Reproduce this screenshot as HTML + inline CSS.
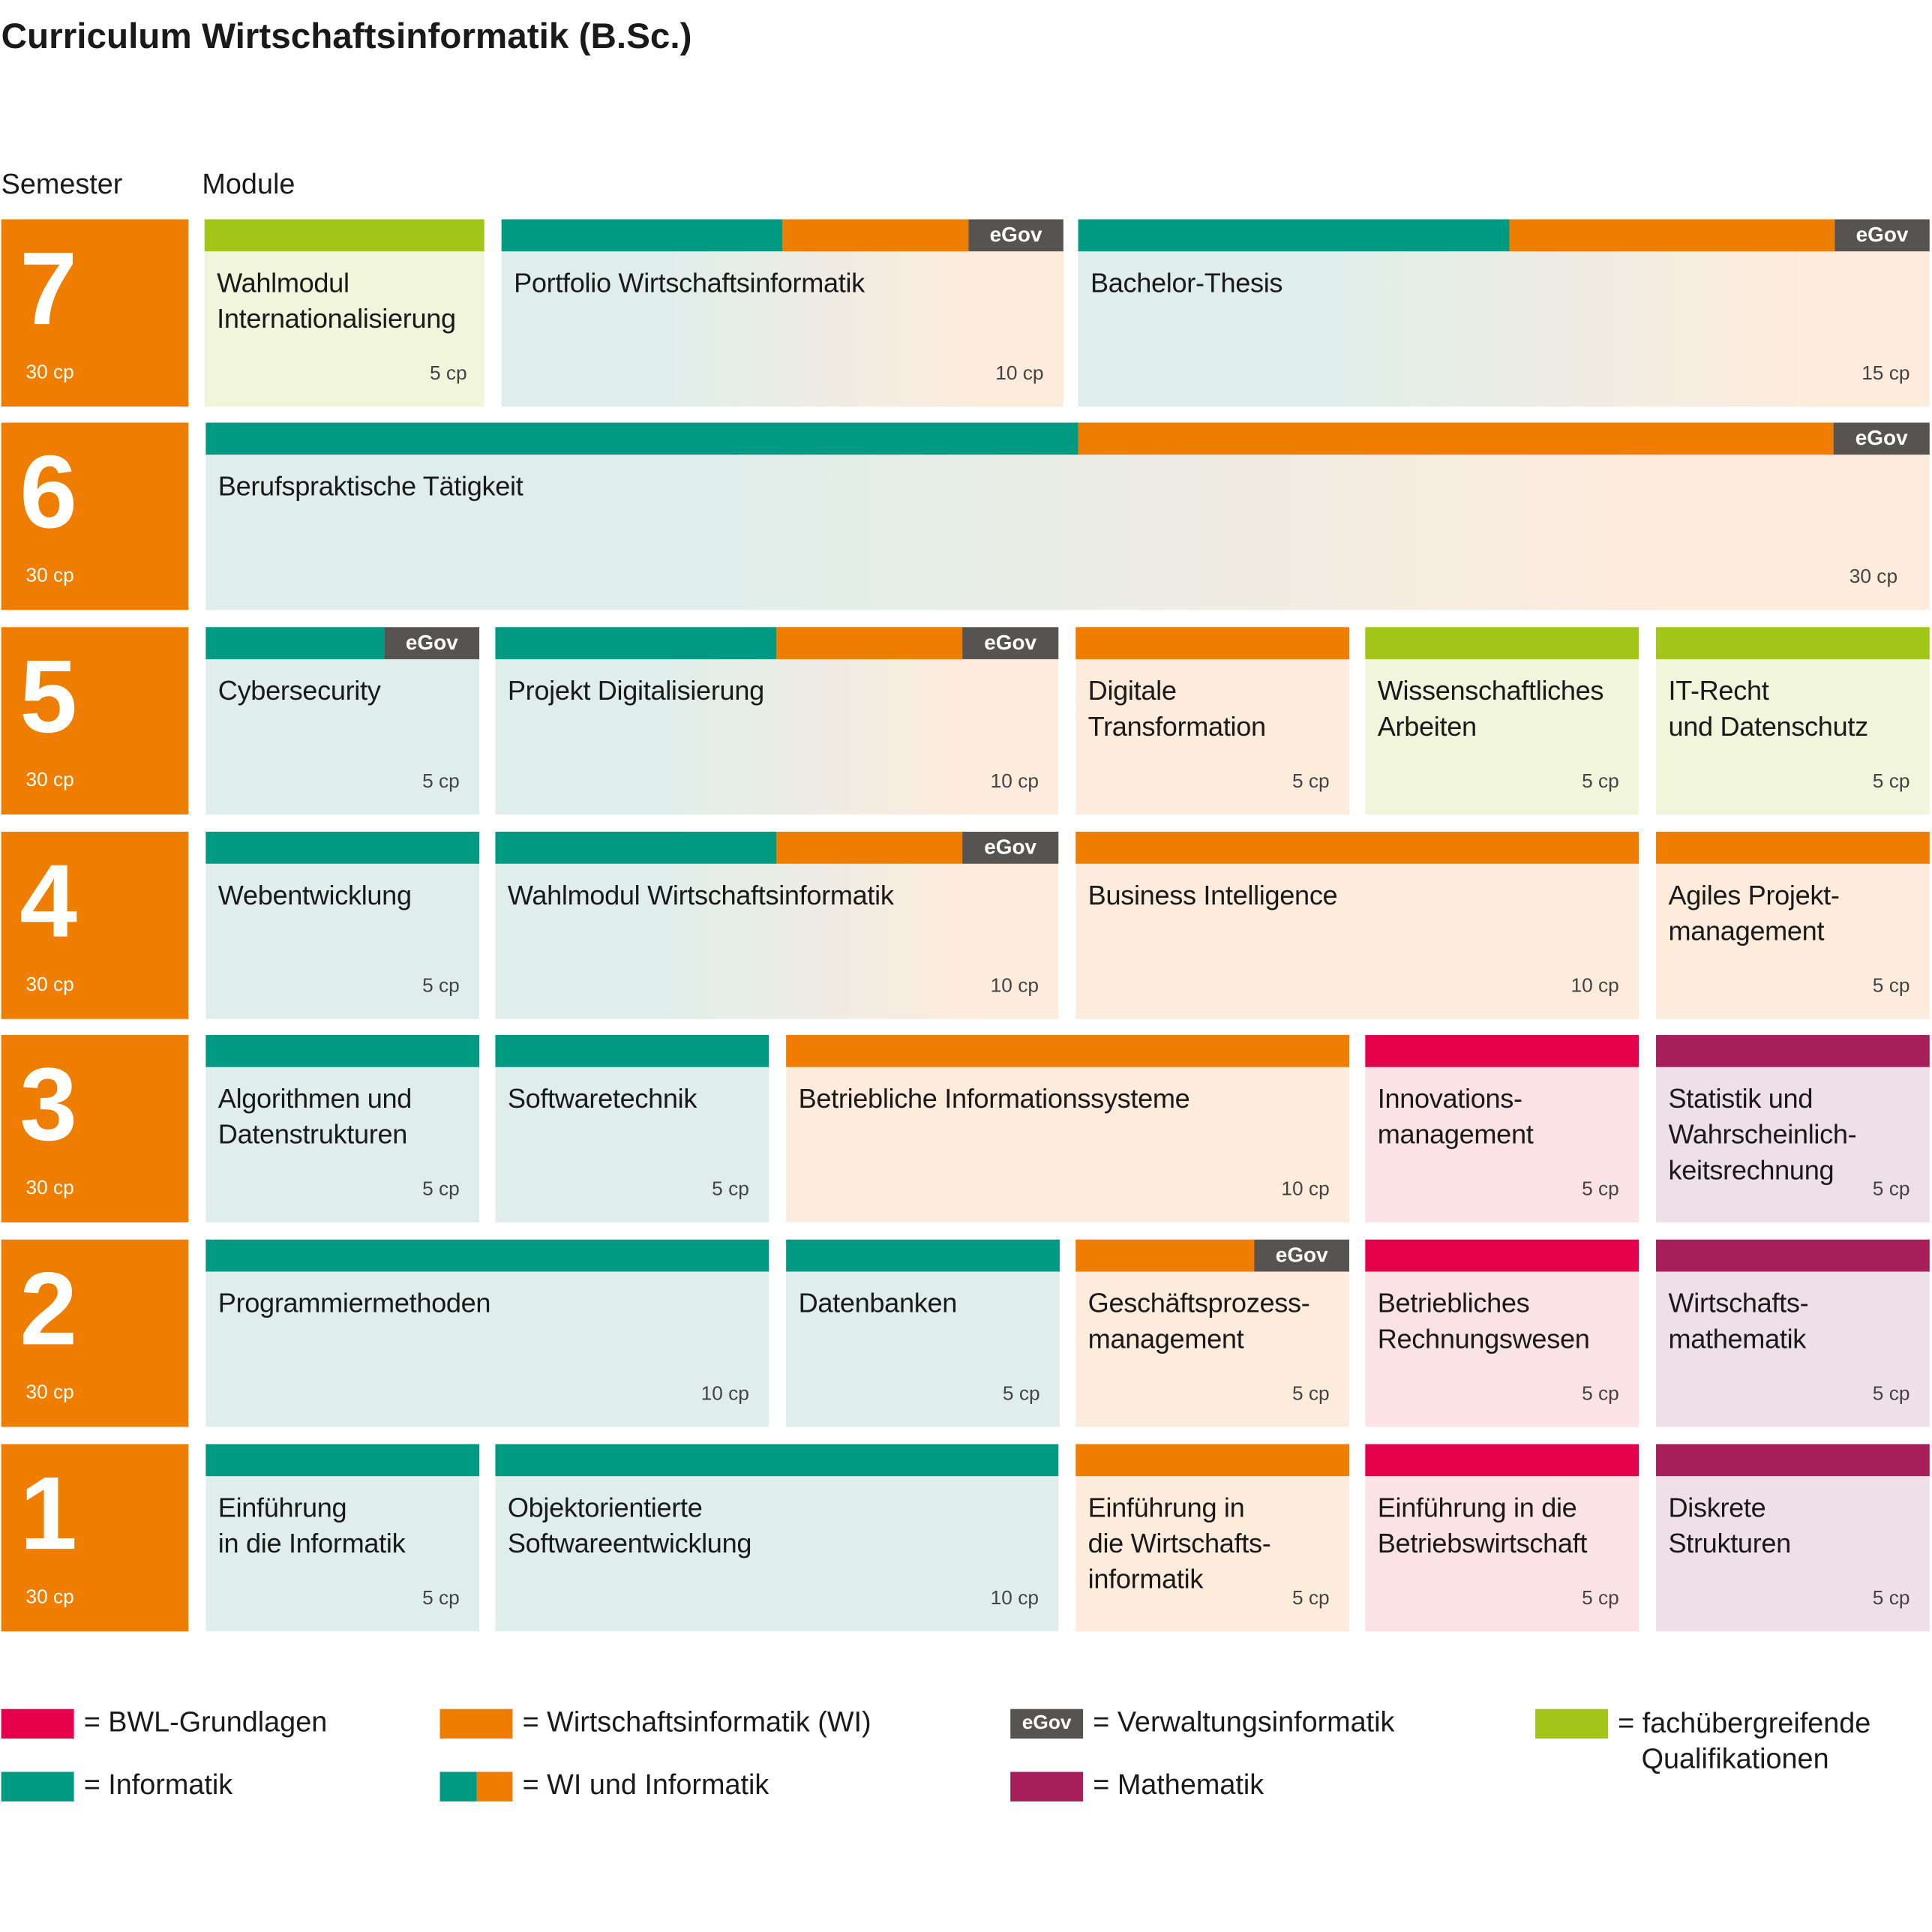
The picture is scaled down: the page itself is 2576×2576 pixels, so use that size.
<!DOCTYPE html>
<html><head><meta charset="utf-8"><style>
html,body{margin:0;padding:0;background:#fff;}
body{width:2576px;height:2576px;overflow:hidden;}
#w{position:absolute;left:0;top:0;width:1568px;height:1568px;transform:scale(1.6429);transform-origin:0 0;font-family:"Liberation Sans",sans-serif;color:#1a1a1a;}
.a{position:absolute;}
.sem{position:absolute;left:1px;width:152px;height:152px;background:#ef7d00;color:#fff;}
.sem .n{position:absolute;left:15px;top:6px;font-size:84px;font-weight:bold;line-height:100px;}
.sem .c{position:absolute;left:20px;bottom:18px;font-size:16px;}
.m{position:absolute;height:152px;}
.bar{position:absolute;top:0;height:26px;}
.t{position:absolute;left:10px;top:37px;font-size:22px;line-height:29px;white-space:nowrap;letter-spacing:-0.2px;}
.cp{position:absolute;right:16px;bottom:17px;font-size:16px;color:#444;}
.eg{background:#575350;color:#fff;font-weight:bold;font-size:17px;text-align:center;line-height:26px;}
.tl{background:#e0eeeb}.ol{background:#fdebdc}.gl{background:#f0f5dc}.rl{background:#fae2e5}.pl{background:#efdfe6}
.mix{background:linear-gradient(90deg,#e0eeeb 0%,#e0eeeb 30%,#fdebdc 85%,#fdebdc 100%);}
.T{background:#009a82}.O{background:#ef7d00}.G{background:#a2c617}.R{background:#e4004b}.P{background:#a61e5a}
.lg{position:absolute;font-size:23px;white-space:nowrap;}
.sw{position:absolute;width:59px;height:24px;}
</style></head><body><div id="w">
<div class="a" style="left:1px;top:14px;font-size:29px;font-weight:bold;">Curriculum Wirtschaftsinformatik (B.Sc.)</div>
<div class="a" style="left:1px;top:136px;font-size:23px;">Semester</div>
<div class="a" style="left:164px;top:136px;font-size:23px;">Module</div>

<div class="sem" style="top:178px"><div class="n">7</div><div class="c">30 cp</div></div>
<div class="sem" style="top:343px"><div class="n">6</div><div class="c">30 cp</div></div>
<div class="sem" style="top:509px"><div class="n">5</div><div class="c">30 cp</div></div>
<div class="sem" style="top:675px"><div class="n">4</div><div class="c">30 cp</div></div>
<div class="sem" style="top:840px"><div class="n">3</div><div class="c">30 cp</div></div>
<div class="sem" style="top:1006px"><div class="n">2</div><div class="c">30 cp</div></div>
<div class="sem" style="top:1172px"><div class="n">1</div><div class="c">30 cp</div></div>

<!-- Row 7 -->
<div class="m gl" style="left:166px;top:178px;width:227px"><div class="bar G" style="left:0;width:227px"></div><div class="t">Wahlmodul<br>Internationalisierung</div><div class="cp" style="right:14px">5 cp</div></div>
<div class="m mix" style="left:407px;top:178px;width:456px"><div class="bar T" style="left:0;width:228px"></div><div class="bar O" style="left:228px;width:151px"></div><div class="bar eg" style="left:379px;width:77px">eGov</div><div class="t">Portfolio Wirtschaftsinformatik</div><div class="cp">10 cp</div></div>
<div class="m mix" style="left:875px;top:178px;width:691px"><div class="bar T" style="left:0;width:350px"></div><div class="bar O" style="left:350px;width:264px"></div><div class="bar eg" style="left:614px;width:77px">eGov</div><div class="t">Bachelor-Thesis</div><div class="cp">15 cp</div></div>

<!-- Row 6 -->
<div class="m mix" style="left:167px;top:343px;width:1399px"><div class="bar T" style="left:0;width:708px"></div><div class="bar O" style="left:708px;width:613px"></div><div class="bar eg" style="left:1321px;width:78px">eGov</div><div class="t">Berufspraktische Tätigkeit</div><div class="cp" style="right:26px">30 cp</div></div>

<!-- Row 5 -->
<div class="m tl" style="left:167px;top:509px;width:222px"><div class="bar T" style="left:0;width:145px"></div><div class="bar eg" style="left:145px;width:77px">eGov</div><div class="t">Cybersecurity</div><div class="cp">5 cp</div></div>
<div class="m mix" style="left:402px;top:509px;width:457px"><div class="bar T" style="left:0;width:228px"></div><div class="bar O" style="left:228px;width:151px"></div><div class="bar eg" style="left:379px;width:78px">eGov</div><div class="t">Projekt Digitalisierung</div><div class="cp">10 cp</div></div>
<div class="m ol" style="left:873px;top:509px;width:222px"><div class="bar O" style="left:0;width:222px"></div><div class="t">Digitale<br>Transformation</div><div class="cp">5 cp</div></div>
<div class="m gl" style="left:1108px;top:509px;width:222px"><div class="bar G" style="left:0;width:222px"></div><div class="t">Wissenschaftliches<br>Arbeiten</div><div class="cp">5 cp</div></div>
<div class="m gl" style="left:1344px;top:509px;width:222px"><div class="bar G" style="left:0;width:222px"></div><div class="t">IT-Recht<br>und Datenschutz</div><div class="cp">5 cp</div></div>

<!-- Row 4 -->
<div class="m tl" style="left:167px;top:675px;width:222px"><div class="bar T" style="left:0;width:222px"></div><div class="t">Webentwicklung</div><div class="cp">5 cp</div></div>
<div class="m mix" style="left:402px;top:675px;width:457px"><div class="bar T" style="left:0;width:228px"></div><div class="bar O" style="left:228px;width:151px"></div><div class="bar eg" style="left:379px;width:78px">eGov</div><div class="t">Wahlmodul Wirtschaftsinformatik</div><div class="cp">10 cp</div></div>
<div class="m ol" style="left:873px;top:675px;width:457px"><div class="bar O" style="left:0;width:457px"></div><div class="t">Business Intelligence</div><div class="cp">10 cp</div></div>
<div class="m ol" style="left:1344px;top:675px;width:222px"><div class="bar O" style="left:0;width:222px"></div><div class="t">Agiles Projekt-<br>management</div><div class="cp">5 cp</div></div>

<!-- Row 3 -->
<div class="m tl" style="left:167px;top:840px;width:222px"><div class="bar T" style="left:0;width:222px"></div><div class="t">Algorithmen und<br>Datenstrukturen</div><div class="cp">5 cp</div></div>
<div class="m tl" style="left:402px;top:840px;width:222px"><div class="bar T" style="left:0;width:222px"></div><div class="t">Softwaretechnik</div><div class="cp">5 cp</div></div>
<div class="m ol" style="left:638px;top:840px;width:457px"><div class="bar O" style="left:0;width:457px"></div><div class="t">Betriebliche Informationssysteme</div><div class="cp">10 cp</div></div>
<div class="m rl" style="left:1108px;top:840px;width:222px"><div class="bar R" style="left:0;width:222px"></div><div class="t">Innovations-<br>management</div><div class="cp">5 cp</div></div>
<div class="m pl" style="left:1344px;top:840px;width:222px"><div class="bar P" style="left:0;width:222px"></div><div class="t">Statistik und<br>Wahrscheinlich-<br>keitsrechnung</div><div class="cp">5 cp</div></div>

<!-- Row 2 -->
<div class="m tl" style="left:167px;top:1006px;width:457px"><div class="bar T" style="left:0;width:457px"></div><div class="t">Programmiermethoden</div><div class="cp">10 cp</div></div>
<div class="m tl" style="left:638px;top:1006px;width:222px"><div class="bar T" style="left:0;width:222px"></div><div class="t">Datenbanken</div><div class="cp">5 cp</div></div>
<div class="m ol" style="left:873px;top:1006px;width:222px"><div class="bar O" style="left:0;width:145px"></div><div class="bar eg" style="left:145px;width:77px">eGov</div><div class="t">Geschäftsprozess-<br>management</div><div class="cp">5 cp</div></div>
<div class="m rl" style="left:1108px;top:1006px;width:222px"><div class="bar R" style="left:0;width:222px"></div><div class="t">Betriebliches<br>Rechnungswesen</div><div class="cp">5 cp</div></div>
<div class="m pl" style="left:1344px;top:1006px;width:222px"><div class="bar P" style="left:0;width:222px"></div><div class="t">Wirtschafts-<br>mathematik</div><div class="cp">5 cp</div></div>

<!-- Row 1 -->
<div class="m tl" style="left:167px;top:1172px;width:222px"><div class="bar T" style="left:0;width:222px"></div><div class="t">Einführung<br>in die Informatik</div><div class="cp">5 cp</div></div>
<div class="m tl" style="left:402px;top:1172px;width:457px"><div class="bar T" style="left:0;width:457px"></div><div class="t">Objektorientierte<br>Softwareentwicklung</div><div class="cp">10 cp</div></div>
<div class="m ol" style="left:873px;top:1172px;width:222px"><div class="bar O" style="left:0;width:222px"></div><div class="t">Einführung in<br>die Wirtschafts-<br>informatik</div><div class="cp">5 cp</div></div>
<div class="m rl" style="left:1108px;top:1172px;width:222px"><div class="bar R" style="left:0;width:222px"></div><div class="t">Einführung in die<br>Betriebswirtschaft</div><div class="cp">5 cp</div></div>
<div class="m pl" style="left:1344px;top:1172px;width:222px"><div class="bar P" style="left:0;width:222px"></div><div class="t">Diskrete<br>Strukturen</div><div class="cp">5 cp</div></div>

<!-- Legend -->
<div class="sw R" style="left:1px;top:1387px"></div><div class="lg" style="left:68px;top:1384px">= BWL-Grundlagen</div>
<div class="sw O" style="left:357px;top:1387px"></div><div class="lg" style="left:424px;top:1384px">= Wirtschaftsinformatik (WI)</div>
<div class="sw eg" style="left:820px;top:1387px;line-height:24px;font-size:16px">eGov</div><div class="lg" style="left:887px;top:1384px">= Verwaltungsinformatik</div>
<div class="sw G" style="left:1246px;top:1387px"></div><div class="lg" style="left:1313px;top:1384px;line-height:29px">= fachübergreifende<br>&nbsp;&nbsp;&nbsp;Qualifikationen</div>
<div class="sw T" style="left:1px;top:1438px"></div><div class="lg" style="left:68px;top:1435px">= Informatik</div>
<div class="sw T" style="left:357px;top:1438px;width:30px"></div><div class="sw O" style="left:387px;top:1438px;width:29px"></div><div class="lg" style="left:424px;top:1435px">= WI und Informatik</div>
<div class="sw P" style="left:820px;top:1438px"></div><div class="lg" style="left:887px;top:1435px">= Mathematik</div>
</div></body></html>
